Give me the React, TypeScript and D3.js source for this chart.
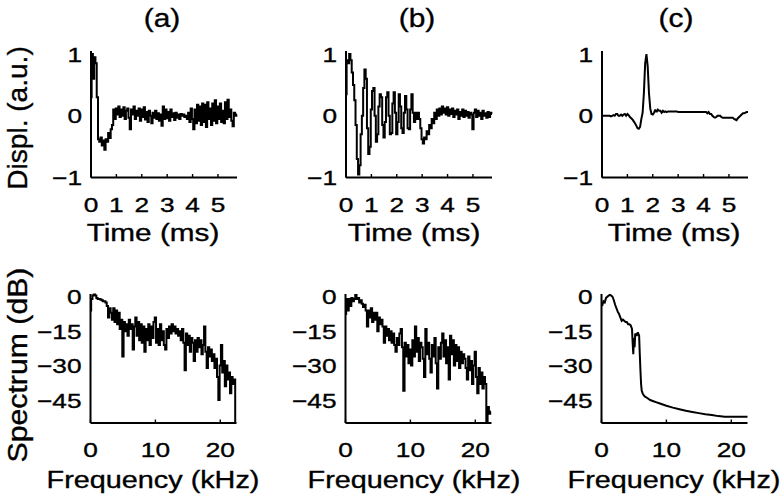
import React from "react";
import * as d3 from "d3";

// ---------------- data ----------------
const TIME_STEP = 0.05; // ms between samples
const FREQ_STEP = 0.2; // kHz between spectrum bins

const panelTitles = ["(a)", "(b)", "(c)"];
const timeTicks = [0, 1, 2, 3, 4, 5];
const displTicks = [-1, 0, 1];
const freqTicks = [0, 10, 20];
const dbTicks = [0, -15, -30, -45];

const displA = [
  0.3, 1.0, 0.6, 0.95, 0.85, 0.3, -0.38, -0.42, -0.35, -0.48,
  -0.4, -0.55, -0.38, -0.42, -0.28, -0.36, -0.22, -0.15, 0.1, -0.05,
  0.12, 0.02, 0.15, -0.02, 0.1, 0.0, 0.14, -0.05, 0.08, 0.12,
  -0.03, -0.22, 0.1, 0.02, 0.15, -0.05, 0.08, 0.0, 0.12, -0.08,
  0.1, -0.02, 0.14, -0.06, 0.06, -0.1, 0.08, 0.0, -0.12, 0.05,
  -0.03, 0.08, -0.05, 0.04, -0.08, 0.02, -0.16, 0.15, -0.05, 0.1,
  -0.04, 0.06, -0.08, 0.1, -0.02, 0.04, -0.07, 0.05, -0.03, 0.02,
  -0.05, 0.03, 0.0, 0.02, -0.02, 0.0, -0.05, 0.05, -0.1, 0.12,
  -0.05, -0.22, 0.1, -0.12, 0.18, -0.08, 0.15, -0.15, 0.2, -0.1,
  0.18, -0.18, 0.22, -0.05, 0.12, -0.15, 0.2, -0.08, 0.25, -0.12,
  0.15, -0.05, 0.2, -0.1, 0.08, -0.12, 0.22, -0.05, 0.26, -0.02,
  0.1, -0.08, -0.17, 0.05, 0.0, 0.02,
];

const displB = [
  0.35, 0.9, 0.85, 1.0, 0.9, 0.7, 0.5, 0.25, -0.15, -0.7,
  -0.95, -0.8, -0.3, 0.0, 0.45, 0.75, 0.6, -0.2, -0.62, -0.5,
  0.1, 0.4, 0.45, 0.0, -0.42, -0.3, 0.15, 0.35, 0.3, -0.15,
  -0.35, -0.1, 0.3, 0.38, 0.0, -0.3, -0.28, 0.2, 0.38, 0.05,
  -0.3, -0.1, 0.35, 0.15, -0.2, -0.28, 0.05, 0.32, 0.1, -0.2,
  -0.22, 0.1, 0.35, 0.05, -0.1, 0.05, -0.05, 0.05, -0.05, -0.2,
  -0.38, -0.45, -0.35, -0.38, -0.25, -0.3, -0.15, -0.2, -0.05, -0.12,
  0.05, -0.05, 0.1, 0.0, 0.12, 0.02, 0.15, 0.05, 0.12, 0.02,
  0.14, 0.0, 0.1, 0.03, 0.12, -0.02, 0.08, 0.02, 0.1, -0.05,
  0.06, 0.0, 0.1, -0.02, 0.08, 0.0, 0.06, -0.03, 0.05, 0.02,
  -0.22, 0.05, 0.1, -0.02, 0.08, 0.0, 0.05, -0.05, 0.08, 0.0,
  0.04, -0.03, 0.06, -0.02, 0.05, 0.03,
];

const displC = [
  0, 0, 0, 0, 0, 0, 0, -0.01, 0, 0.01,
  0, 0.03, 0.03, 0.0, 0.0, 0.02, 0.0, 0.02, 0.03, 0.0,
  0.03, 0.01, -0.02, -0.04, -0.06, -0.09, -0.12, -0.16, -0.2, -0.21,
  -0.18, -0.05, 0.05, 0.37, 0.85, 1.0, 0.8, 0.37, 0.12, 0.03,
  0.02, 0.05, 0.1, 0.06, 0.1, 0.08, 0.08, 0.05, 0.08, 0.06,
  0.07, 0.06, 0.07, 0.07, 0.07, 0.07, 0.07, 0.07, 0.07, 0.07,
  0.06, 0.06, 0.06, 0.06, 0.06, 0.06, 0.06, 0.06, 0.06, 0.06,
  0.06, 0.06, 0.06, 0.06, 0.06, 0.06, 0.06, 0.06, 0.06, 0.06,
  0.06, 0.06, 0.06, 0.04, 0.06, 0.03, 0.03, 0.0, -0.02, -0.03,
  -0.02, 0.0, 0.0, 0.0, -0.02, -0.03, -0.03, -0.03, -0.03, -0.03,
  -0.03, -0.03, -0.03, -0.03, -0.05, -0.06, -0.07, -0.04, -0.02, 0.0,
  0.02, 0.04, 0.04, 0.05, 0.06, 0.06,
];

const spectrumA = [
  -6, -1, 0.5, 1.0, 0.5, -0.5, -1, -1, -1.2, -1.5,
  -2, -2, -2.5, -4, -9, -5, -7, -10, -5, -11,
  -6, -12, -7, -14, -10, -26, -11, -15, -12, -17,
  -10, -14, -12, -23, -13, -9, -17, -11, -19, -12,
  -20, -13, -24, -14, -19, -12, -21, -13, -18, -11,
  -9, -20, -14, -21, -12, -19, -15, -21, -23, -14,
  -18, -13, -16, -12, -15, -13, -16, -14, -17, -15,
  -19, -14, -20, -32, -16, -21, -17, -24, -18, -20,
  -28, -19, -24, -18, -22, -19, -25, -21, -13, -24,
  -31, -22, -26, -23, -28, -25, -31, -27, -35, -45,
  -30, -21, -33, -28, -39, -30, -36, -33, -42, -35,
  -38, -36, -56,
];

const spectrumB = [
  -7.5, -1, -6, -1, -4, -0.5, -2, -1, 0.8, -1,
  -0.5, -2.5, -1.5, -3, -4.5, -3.5, -6, -13, -6, -9,
  -5, -11, -7, -10, -7, -15, -9, -12, -10, -13,
  -20, -13, -17, -14, -19, -15, -20, -16, -21, -24,
  -18, -21, -16, -14, -22, -41, -20, -26, -21, -29,
  -23, -30, -19, -26, -13, -24, -18, -28, -20, -22,
  -27, -35, -14, -25, -20, -27, -33, -21, -26, -18,
  -29, -40, -22, -27, -20, -16, -26, -19, -29, -22,
  -36, -17, -25, -19, -30, -21, -28, -22, -31, -24,
  -29, -25, -27, -31, -36, -26, -32, -28, -38, -30,
  -24, -35, -42, -31, -38, -33, -40, -35, -38, -60,
  -48, -51, -50,
];

const spectrumCFreq = [
  0.1, 0.3, 0.5, 0.7, 0.9, 1.1, 1.3, 1.5, 1.7, 1.9,
  2.1, 2.3, 2.5, 2.7, 2.9, 3.1, 3.3, 3.5, 3.7, 3.9,
  4.1, 4.3, 4.5, 4.7, 4.8, 4.9, 5.0, 5.1, 5.2, 5.4,
  5.6, 5.8, 5.9, 6.0, 6.1, 6.2, 6.4, 6.7, 7.0, 7.5,
  8.0, 8.5, 9.0, 10.0, 11.0, 12.0, 13.0, 14.0, 15.0, 16.0,
  17.0, 18.0, 19.0, 20.0, 21.0, 22.5,
];
const spectrumCdB = [
  -4, -2, -2.5, -0.5, 0, 0.5, 0.8, 0.5, 0, -1.5,
  -3.5, -5, -6.5, -7.5, -9, -10.5, -10, -10.5, -11, -11,
  -12, -12, -12.5, -14, -20, -25, -18, -22, -16, -17,
  -15.5, -17, -25, -32, -38, -41, -42.5, -43.5, -44, -45,
  -45.5, -46, -46.5, -47.5, -48.3, -49, -49.7, -50.2, -50.7, -51.2,
  -51.5, -52, -52.3, -52.3, -52.3, -52.3,
];

// ---------------- layout ----------------
const FONT = "'Liberation Sans', Arial, Helvetica, sans-serif";
const COL_X = [91, 346, 602];
const PLOT_W = 146;
const TOP = { y0: 51, y1: 177.5 };
const BOT = { y0: 294, y1: 423 };
const TITLE_X = [162, 417, 676];
const XLABEL_X = [153, 414, 674];
const STEPPED = [true, true, false];

type Pt = [number, number];

function Txt(props: {
  x: number; y: number; size: number; sx?: number; anchor?: string; rotate?: number; children: React.ReactNode;
}) {
  const { x, y, size, sx = 1, anchor = "middle", rotate = 0, children } = props;
  const tr = `translate(${x},${y})${rotate ? ` rotate(${rotate})` : ""} scale(${sx},1)`;
  return (
    <text
      transform={tr}
      fontSize={size}
      textAnchor={anchor as any}
      fontFamily={FONT}
      fill="#000"
      stroke="#000"
      strokeWidth={0.35}
    >
      {children}
    </text>
  );
}

const fmt = (v: number) => (v < 0 ? "\u2212" + Math.abs(v) : String(v));

function Panel(props: {
  id: string; x0: number; y0: number; y1: number; xDomain: [number, number]; yDomain: [number, number];
  pts: Pt[]; xTicks: number[]; yTicks: number[]; tickLabelY: number; stepped: boolean;
}) {
  const { id, x0, y0, y1, xDomain, yDomain, pts, xTicks, yTicks, tickLabelY, stepped } = props;
  const x = d3.scaleLinear().domain(xDomain).range([x0, x0 + PLOT_W]);
  const y = d3.scaleLinear().domain(yDomain).range([y1, y0]);
  const line = d3
    .line<Pt>()
    .x((d) => x(d[0]))
    .y((d) => y(d[1]))
    .curve(stepped ? d3.curveStep : d3.curveLinear);
  return (
    <g>
      <defs>
        <clipPath id={id}>
          <rect x={x0} y={y0 - 3} width={PLOT_W + 2} height={y1 - y0 + 3} />
        </clipPath>
      </defs>
      <path
        d={line(pts) || ""}
        fill="none"
        stroke="#000"
        strokeWidth={2}
        strokeLinejoin="miter"
        strokeMiterlimit={2}
        clipPath={`url(#${id})`}
      />
      <line x1={x0} x2={x0} y1={y0} y2={y1} stroke="#000" strokeWidth={2} />
      <line x1={x0} x2={x0 + PLOT_W} y1={y1} y2={y1} stroke="#000" strokeWidth={2} />
      {xTicks.map((t) => (
        <line key={"t" + t} x1={x(t)} x2={x(t)} y1={y1} y2={y1 - 3.5} stroke="#000" strokeWidth={1.4} />
      ))}
      {xTicks.map((t) => (
        <Txt key={"xl" + t} x={x(t)} y={tickLabelY} size={21} sx={1.25}>
          {fmt(t)}
        </Txt>
      ))}
      {yTicks.map((t) => (
        <Txt key={"yl" + t} x={x0 - 9} y={y(t) + 7.5} size={21} sx={1.25} anchor="end">
          {fmt(t)}
        </Txt>
      ))}
    </g>
  );
}

export default function App() {
  const displ = [displA, displB, displC];
  const timePts: Pt[][] = displ.map((arr) => arr.map((v, i) => [i * TIME_STEP, v] as Pt));
  const specPts: Pt[][] = [
    spectrumA.map((v, i) => [i * FREQ_STEP, v] as Pt),
    spectrumB.map((v, i) => [i * FREQ_STEP, v] as Pt),
    spectrumCFreq.map((f, i) => [f, spectrumCdB[i]] as Pt),
  ];
  return (
    <svg width={784} height={500} style={{ position: "absolute", left: 0, top: 0, background: "#fff" }}>
      <rect x={0} y={0} width={784} height={500} fill="#fff" />
      {panelTitles.map((t, i) => (
        <Txt key={t} x={TITLE_X[i]} y={27} size={26} sx={1.15}>
          {t}
        </Txt>
      ))}
      <Txt x={27} y={118} size={27} sx={1.04} rotate={-90}>
        Displ. (a.u.)
      </Txt>
      <Txt x={27} y={365} size={27} sx={1.12} rotate={-90}>
        Spectrum (dB)
      </Txt>
      {COL_X.map((x0, i) => (
        <Panel
          key={"top" + i}
          id={"clipTop" + i}
          x0={x0}
          y0={TOP.y0}
          y1={TOP.y1}
          xDomain={[0, 5.75]}
          yDomain={[-1, 1.05]}
          pts={timePts[i]}
          xTicks={timeTicks}
          yTicks={displTicks}
          tickLabelY={212}
          stepped={STEPPED[i]}
        />
      ))}
      {COL_X.map((x0, i) => (
        <Panel
          key={"bot" + i}
          id={"clipBot" + i}
          x0={x0 - 0.5}
          y0={BOT.y0}
          y1={BOT.y1}
          xDomain={[0, 22.5]}
          yDomain={[-55, 1.2]}
          pts={specPts[i]}
          xTicks={freqTicks}
          yTicks={dbTicks}
          tickLabelY={457}
          stepped={STEPPED[i]}
        />
      ))}
      {XLABEL_X.map((x, i) => (
        <Txt key={"tl" + i} x={x} y={241} size={24} sx={1.24}>
          Time (ms)
        </Txt>
      ))}
      {XLABEL_X.map((x, i) => (
        <Txt key={"fl" + i} x={x} y={488} size={24} sx={1.2}>
          Frequency (kHz)
        </Txt>
      ))}
    </svg>
  );
}
